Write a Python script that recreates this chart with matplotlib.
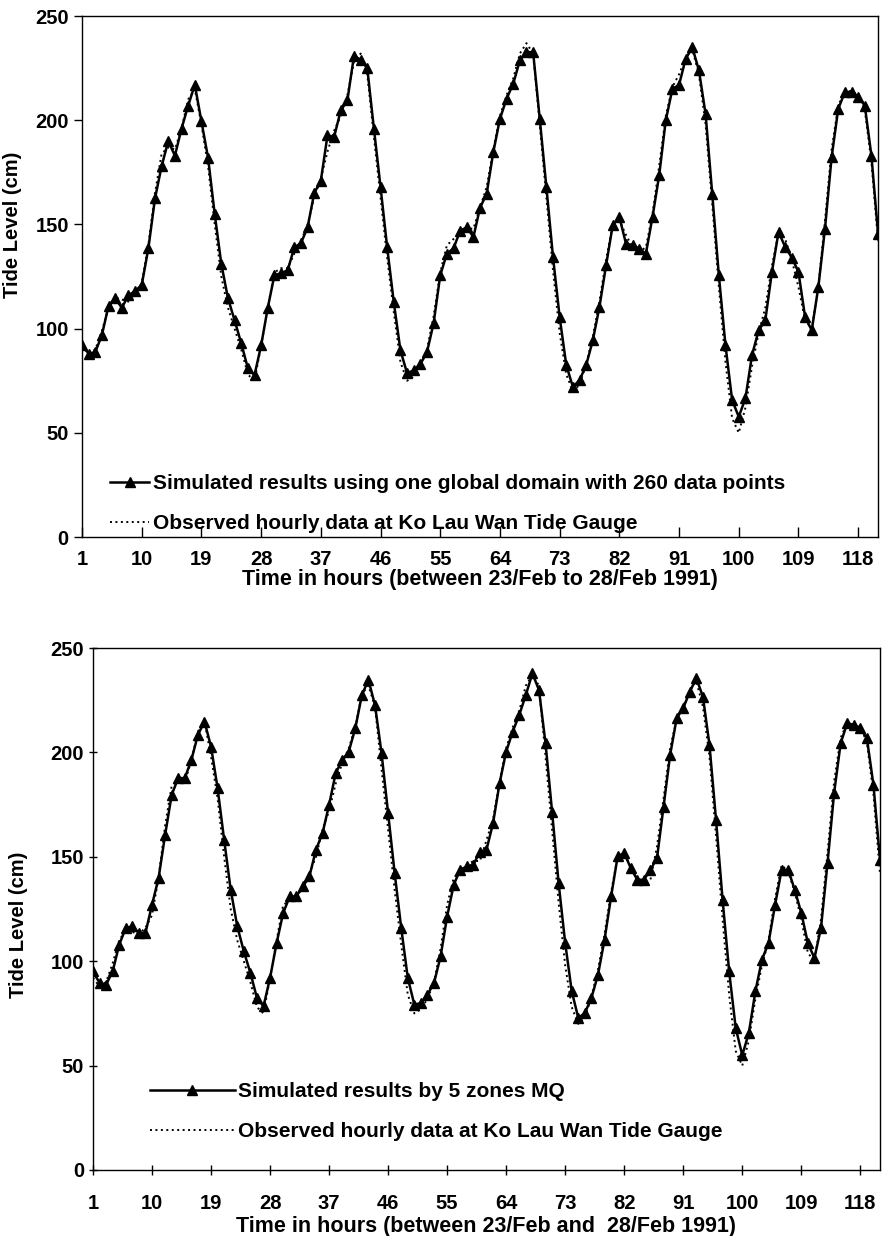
import matplotlib
matplotlib.use('Agg')
import matplotlib.pyplot as plt
import numpy as np

plt.rcParams['font.family'] = ['Liberation Sans', 'DejaVu Sans']
plt.rcParams['font.weight'] = 'bold'

hours = np.arange(1, 122)
xtick_vals = [1, 10, 19, 28, 37, 46, 55, 64, 73, 82, 91, 100, 109, 118]
ytick_vals = [0, 50, 100, 150, 200, 250]

# simulated, one global domain (260 data points)
sim_global = [92, 88, 88.7, 97, 111, 114.6, 110, 116, 118, 121,
              138.5, 162.5, 178, 190, 183, 196, 207, 217, 199.5, 182,
              155, 131, 114.6, 104, 93, 81, 77.7, 92, 110, 125.6,
              126.6, 128, 139, 141, 148.6, 165, 171, 192.7, 192, 204.7,
              209.5, 231, 229, 225, 196, 168, 139, 112.6, 89.6, 78.6,
              80, 83, 88.7, 102.6, 125.6, 136, 138.5, 147, 148.6, 144,
              158, 164.8, 184.7, 200.7, 210.3, 217.5, 228.7, 232.7, 232.7, 200.7,
              168, 134.4, 105.6, 82.5, 72, 75.3, 82.5, 94.4, 110.4, 130.4,
              149.6, 153.6, 140.8, 140, 138.4, 136, 153.6, 173.5, 200, 215,
              217, 229.5, 235, 223.9, 203, 164.8, 125.6, 92, 65.7, 57.7,
              66.5, 87.3, 99.2, 104, 127.2, 146.4, 139.2, 134.1, 127.2, 105.6,
              99.2, 120, 148, 182.3, 205.5, 213.5, 213.5, 211.4, 207, 183, 145.6]

# simulated, 5 zones MQ
sim_mq = [95.1, 89.6, 88.8, 95.1, 107.9, 115.9, 116.7, 113.5, 113.5, 127,
          139.8, 160.5, 179.7, 187.7, 187.7, 196.4, 208.4, 214.8, 202.8, 182.9,
          158.1, 134.2, 116.7, 104.7, 94.4, 82.4, 78.4, 92, 108.7, 123.1,
          131, 131, 135.8, 140.6, 153.4, 161.3, 174.9, 190, 196.4, 200.4,
          211.6, 227.5, 234.7, 222.7, 199.6, 170.9, 142.2, 115.9, 92, 79.2,
          80, 84, 89.6, 102.3, 121.4, 136.6, 143.8, 145.4, 146.2, 152.5,
          153.4, 166.1, 185.3, 200.4, 210, 218, 227.5, 237.9, 229.9, 204.4,
          171.7, 137.4, 108.7, 85.6, 72.8, 75.2, 82.4, 93.5, 110.3, 131,
          150.2, 151.8, 144.6, 139, 139, 143.8, 149.4, 174.1, 198.8, 216.4,
          221.2, 229.1, 235.5, 226.7, 203.6, 167.7, 129.4, 95.1, 68, 55,
          65.6, 85.6, 100.7, 108.7, 127, 143.8, 143.8, 134.2, 123.1, 108.7,
          101.5, 115.9, 147, 180.5, 204.4, 214, 213.2, 211.6, 206.8, 184.5, 148.6]

# observed hourly data, Ko Lau Wan tide gauge
observed = [92, 88, 90, 99, 110, 115, 114, 113, 116, 122,
            140, 165, 184, 187, 186, 196, 210, 215, 198, 178,
            150, 125, 110, 100, 90, 78, 75, 92, 110, 127,
            129, 129, 136, 142, 150, 163, 172, 185, 195, 202,
            212, 228, 232, 222, 192, 163, 134, 108, 84, 75,
            77, 82, 90, 106, 127, 140, 143, 146, 148, 148,
            158, 168, 186, 202, 212, 220, 232, 237, 232, 198,
            163, 128, 98, 78, 70, 73, 83, 96, 113, 133,
            150, 152, 145, 139, 137, 139, 155, 178, 202, 216,
            222, 230, 234, 222, 198, 160, 120, 84, 57, 50,
            62, 82, 98, 110, 130, 146, 143, 133, 120, 104,
            100, 120, 152, 186, 207, 214, 214, 212, 205, 180, 142]

panels = [
    dict(sim=sim_global,
         sim_label='Simulated results using one global domain with 260 data points',
         xlabel='Time in hours (between 23/Feb to 28/Feb 1991)',
         rect=[0.0929, 0.5655, 0.9015, 0.4215],
         leg_anchor=(0.035, 0.008), handlelength=1.9,
         ytickdir='out', xtickdir='in', xpad=9, labelpad=0,
         ylab_xy=(-0.075, 0.6)),
    dict(sim=sim_mq,
         sim_label='Simulated results by 5 zones MQ',
         xlabel='Time in hours (between 23/Feb and  28/Feb 1991)',
         rect=[0.1053, 0.0534, 0.8913, 0.4223],
         leg_anchor=(0.072, 0.055), handlelength=4.1,
         ytickdir='inout', xtickdir='inout', xpad=13.5, labelpad=2.5,
         ylab_xy=(-0.083, 0.47)),
]

fig = plt.figure(figsize=(8.83, 12.36), dpi=100)

for p in panels:
    ax = fig.add_axes(p['rect'])
    ax.plot(hours, p['sim'], '-^', color='black', lw=1.8, ms=6.5,
            label=p['sim_label'])
    ax.plot(hours, observed, linestyle=(0, (1, 1.8)), color='black', lw=1.4,
            label='Observed hourly data at Ko Lau Wan Tide Gauge')
    ax.set_xlim(1, 121)
    ax.set_ylim(0, 250)
    ax.set_xticks(xtick_vals)
    ax.set_yticks(ytick_vals)
    ax.tick_params(axis='y', direction=p['ytickdir'], length=6, width=1,
                   labelsize=14.5)
    ax.tick_params(axis='x', direction=p['xtickdir'], length=7, width=1,
                   labelsize=14.5, pad=p['xpad'])
    for lab in ax.get_xticklabels() + ax.get_yticklabels():
        lab.set_fontweight('bold')
    for s in ax.spines.values():
        s.set_linewidth(1.0)
    ax.set_xlabel(p['xlabel'], fontsize=15.5, fontweight='bold',
                  labelpad=p['labelpad'])
    ax.set_ylabel('Tide Level (cm)', fontsize=14.5, fontweight='bold')
    ax.yaxis.set_label_coords(*p['ylab_xy'])
    ax.legend(loc='lower left', bbox_to_anchor=p['leg_anchor'], frameon=False,
              handlelength=p['handlelength'], handletextpad=0.15,
              labelspacing=1.0, borderpad=0, borderaxespad=0,
              prop={'weight': 'bold', 'size': 15})

fig.savefig('out.png', dpi=100)
